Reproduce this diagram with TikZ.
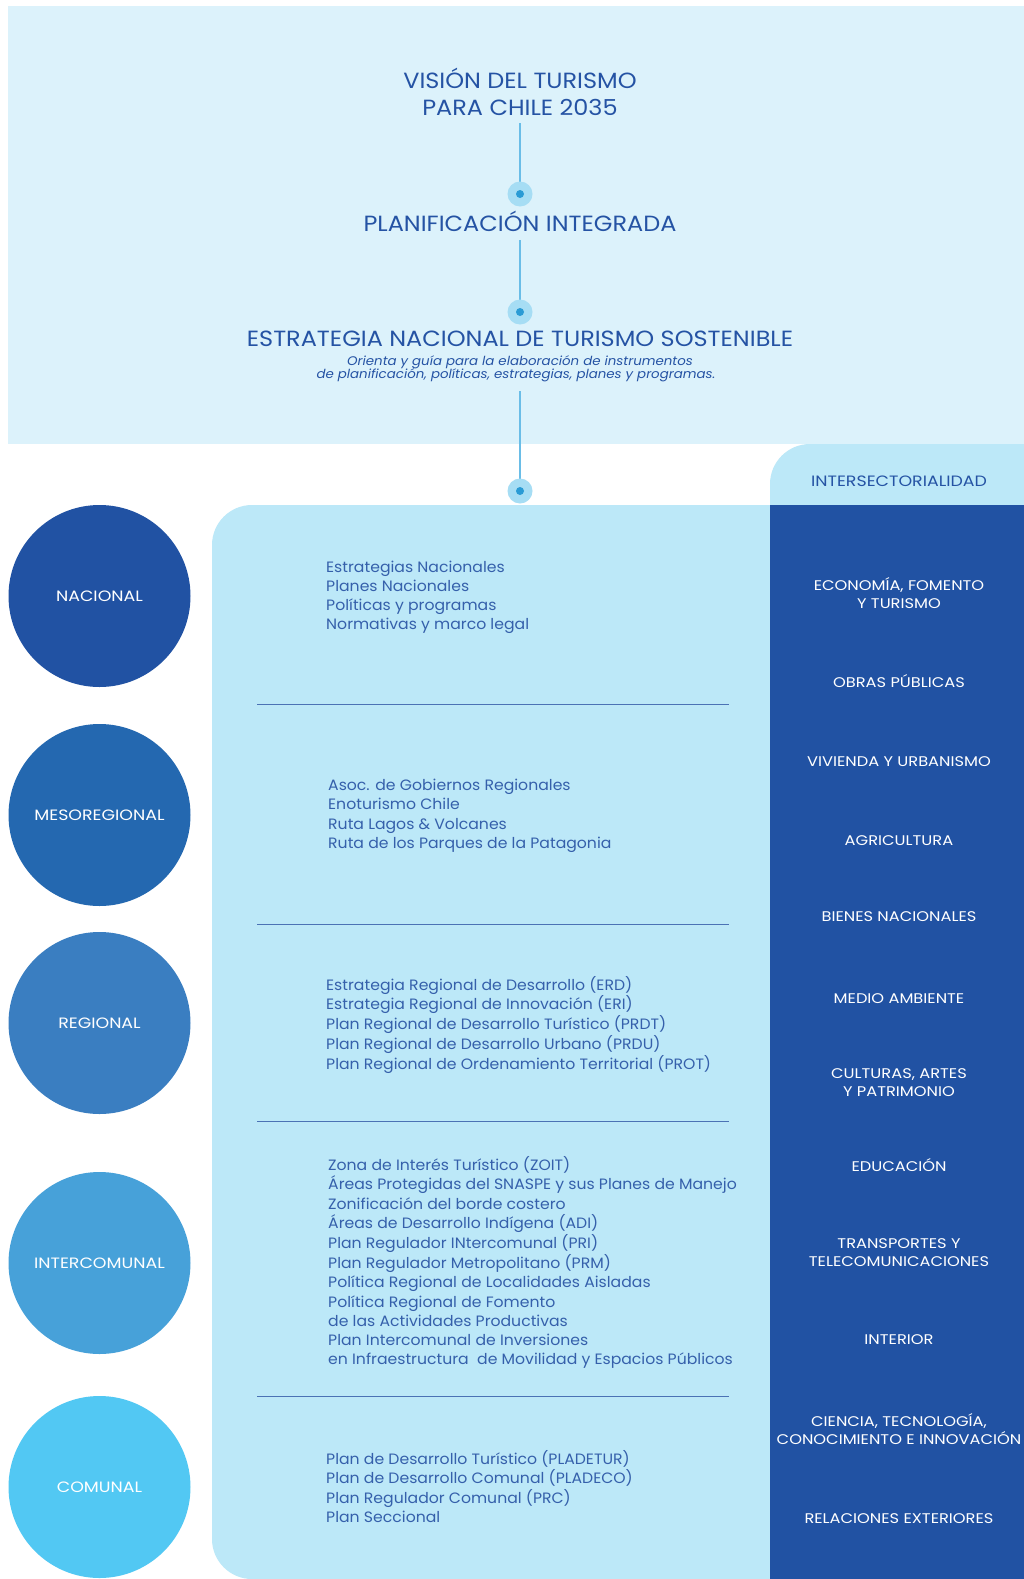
\documentclass[tikz,border=0pt]{standalone}
\usepackage{fontspec}
\setmainfont{Poppins}
\newfontfamily\titlefont{Poppins}[FakeStretch=1.09]
\newfontfamily\subfont{Poppins}[FakeStretch=1.07]
\newfontfamily\listfont{Poppins}[FakeStretch=1.045]
\newfontfamily\capsfont{Poppins}[FakeStretch=1.16]
\definecolor{toppanel}{HTML}{DCF2FB}
\definecolor{lightpanel}{HTML}{BCE8F8}
\definecolor{darkcol}{HTML}{2152A3}
\definecolor{titleblue}{HTML}{2553A4}
\definecolor{listblue}{HTML}{3560AB}
\definecolor{dotout}{HTML}{A6DDF4}
\definecolor{dotin}{HTML}{2A9BD5}
\definecolor{connc}{HTML}{6ABDE7}
\definecolor{sepc}{HTML}{4B72B5}
\definecolor{cA}{HTML}{2152A3}
\definecolor{cB}{HTML}{2468B0}
\definecolor{cC}{HTML}{3A7EC1}
\definecolor{cD}{HTML}{47A1D9}
\definecolor{cE}{HTML}{52C8F3}
\begin{document}
\begin{tikzpicture}[x=1pt,y=-1pt,
  titletext/.style={text=titleblue, font=\titlefont\fontsize{22}{26}\selectfont, inner sep=0pt, anchor=base},
  subtext/.style={text=titleblue, font=\subfont\fontsize{12.5}{13.5}\selectfont\itshape, inner sep=0pt, anchor=base},
  listtext/.style={text=listblue, font=\listfont\fontsize{15}{19.3}\selectfont, inner sep=0pt, anchor=base west},
  sectortext/.style={text=white, font=\capsfont\fontsize{14}{18.1}\selectfont, inner sep=0pt, anchor=base},
  levelcircle/.style={circle, minimum size=182pt, inner sep=0pt, text=white, font=\capsfont\fontsize{15}{18}\selectfont},
  dotouter/.style={circle, fill=dotout, minimum size=25pt, inner sep=0pt},
  conn/.style={draw=connc, line width=1.3pt},
  sepline/.style={draw=sepc, line width=0.8pt}]
\useasboundingbox (0,0) rectangle (1023,1579);
\fill[white] (0,0) rectangle (1023,1579);
% panels
\fill[toppanel] (8,6) rectangle (1030,444);
\fill[lightpanel] (770,505) [rounded corners=40pt] -- (770,444) [sharp corners] -- (1030,444) -- (1030,505) -- cycle;
\fill[lightpanel, rounded corners=40pt] (212,505) rectangle (820,1579);
\fill[darkcol] (770,505) rectangle (1030,1585);

% titles
\node[titletext] (vision1) at (520,88.3) {VISIÓN DEL TURISMO};
\node[titletext] (vision2) at (520,115) {PARA CHILE 2035};
\node[titletext] (plan) at (520,231.7) {PLANIFICACIÓN INTEGRADA};
\node[titletext] (ens) at (520,346.7) {ESTRATEGIA NACIONAL DE TURISMO SOSTENIBLE};
\node[subtext] (sub1) at (520,365) {Orienta y guía para la elaboración de instrumentos};
\node[subtext] (sub2) at (516,378.5) {de planificación, políticas, estrategias, planes y programas.};

\coordinate (d1) at (520,194);
\coordinate (d2) at (520,312);
\coordinate (d3) at (520,491);
\draw[conn, shorten <=8pt] (vision2.south) -- (d1);
\draw[conn, shorten <=8pt] (plan.south) -- (d2);
\draw[conn, shorten <=9pt] (d3 |- sub2.south) -- (d3);
\foreach \d in {d1,d2,d3}{
  \node[dotouter] at (\d) {};
  \fill[dotin] (\d) circle (4pt);
}

% level circles
\node[levelcircle, fill=cA] (nac) at (99.5,596) {NACIONAL};
\node[levelcircle, fill=cB] (meso) at (99.5,815) {MESOREGIONAL};
\node[levelcircle, fill=cC] (reg) at (99.5,1023) {REGIONAL};
\node[levelcircle, fill=cD] (inter) at (99.5,1263) {INTERCOMUNAL};
\node[levelcircle, fill=cE] (com) at (99.5,1487) {COMUNAL};

% separators
\coordinate (s1a) at (257,704);  \coordinate (s1b) at (729,704);
\coordinate (s2a) at (257,924);  \coordinate (s2b) at (729,924);
\coordinate (s3a) at (257,1121); \coordinate (s3b) at (729,1121);
\coordinate (s4a) at (257,1396); \coordinate (s4b) at (729,1396);
\draw[sepline] (s1a) -- (s1b);
\draw[sepline] (s2a) -- (s2b);
\draw[sepline] (s3a) -- (s3b);
\draw[sepline] (s4a) -- (s4b);

% lists
\node[listtext] (lnac) at (326,572) {\begin{tabular}[t]{@{}l@{}}Estrategias Nacionales\\Planes Nacionales\\Políticas y programas\\Normativas y marco legal\end{tabular}};
\node[listtext] (lmeso) at (328,790.5) {\begin{tabular}[t]{@{}l@{}}Asoc. de Gobiernos Regionales\\Enoturismo Chile\\Ruta Lagos \& Volcanes\\Ruta de los Parques de la Patagonia\end{tabular}};
\node[listtext] (lreg) at (326,990) {\begin{tabular}[t]{@{}l@{}}Estrategia Regional de Desarrollo (ERD)\\Estrategia Regional de Innovación (ERI)\\Plan Regional de Desarrollo Turístico (PRDT)\\Plan Regional de Desarrollo Urbano (PRDU)\\Plan Regional de Ordenamiento Territorial (PROT)\end{tabular}};
\node[listtext] (linter) at (328,1170) {\begin{tabular}[t]{@{}l@{}}Zona de Interés Turístico (ZOIT)\\Áreas Protegidas del SNASPE y sus Planes de Manejo\\Zonificación del borde costero\\Áreas de Desarrollo Indígena (ADI)\\Plan Regulador INtercomunal (PRI)\\Plan Regulador Metropolitano (PRM)\\Política Regional de Localidades Aisladas\\Política Regional de Fomento\\de las Actividades Productivas\\Plan Intercomunal de Inversiones\\en Infraestructura\ \ de Movilidad y Espacios Públicos\end{tabular}};
\node[listtext] (lcom) at (326,1464) {\begin{tabular}[t]{@{}l@{}}Plan de Desarrollo Turístico (PLADETUR)\\Plan de Desarrollo Comunal (PLADECO)\\Plan Regulador Comunal (PRC)\\Plan Seccional\end{tabular}};

% sectors
\node[sectortext, text=titleblue, font=\capsfont\fontsize{15}{18}\selectfont] (inters) at (899,486) {INTERSECTORIALIDAD};
\node[sectortext] (s01) at (899,590) {\begin{tabular}[t]{@{}c@{}}ECONOMÍA, FOMENTO\\Y TURISMO\end{tabular}};
\node[sectortext] (s02) at (899,687) {OBRAS PÚBLICAS};
\node[sectortext] (s03) at (899,766) {VIVIENDA Y URBANISMO};
\node[sectortext] (s04) at (899,845) {AGRICULTURA};
\node[sectortext] (s05) at (899,921) {BIENES NACIONALES};
\node[sectortext] (s06) at (899,1003) {MEDIO AMBIENTE};
\node[sectortext] (s07) at (899,1078) {\begin{tabular}[t]{@{}c@{}}CULTURAS, ARTES\\Y PATRIMONIO\end{tabular}};
\node[sectortext] (s08) at (899,1171) {EDUCACIÓN};
\node[sectortext] (s09) at (899,1248.5) {\begin{tabular}[t]{@{}c@{}}TRANSPORTES Y\\TELECOMUNICACIONES\end{tabular}};
\node[sectortext] (s10) at (899,1344) {INTERIOR};
\node[sectortext] (s11) at (899,1426) {\begin{tabular}[t]{@{}c@{}}CIENCIA, TECNOLOGÍA,\\CONOCIMIENTO E INNOVACIÓN\end{tabular}};
\node[sectortext] (s12) at (899,1523) {RELACIONES EXTERIORES};
\end{tikzpicture}
\end{document}
